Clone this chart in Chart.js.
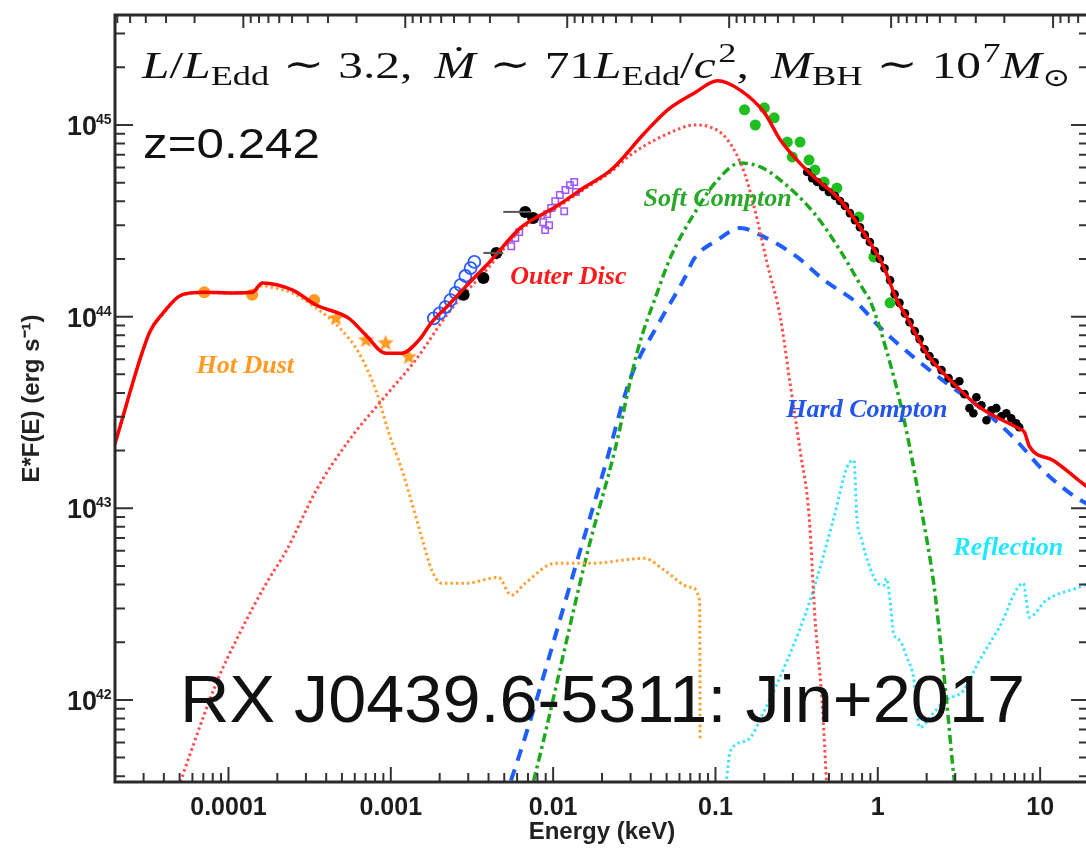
<!DOCTYPE html>
<html>
<head>
<meta charset="utf-8">
<script src="https://cdn.jsdelivr.net/npm/chart.js@4.4.1/dist/chart.umd.min.js"></script>
<style>
  html, body { margin: 0; padding: 0; background: #fff; overflow: hidden; }
  #wrap { position: absolute; left: 0; top: 0; width: 1100px; height: 848px; }
</style>
</head>
<body>
<div id="wrap"><canvas id="sed" width="1100" height="848"></canvas></div>
<script>
// ---------- axes ----------
const energyRange = [2e-5, 20];          // keV (bottom axis)
const lumRange = [3.73e41, 3.75e45];      // erg/s
const hcKeVAngstrom = 12.398;             // top axis: wavelength in Angstrom
const xMajorLabels = ['0.0001', '0.001', '0.01', '0.1', '1', '10'];
const yMajorExponents = [42, 43, 44, 45];

// ---------- model components ----------
const totalE = [2.0e-5, 3.27e-5, 3.94e-5, 5.15e-5, 7.1e-5, 1.06e-4, 1.40e-4, 1.62e-4, 2.47e-4, 3.47e-4,
  5.52e-4, 7.03e-4, 9.3e-4, 1.17e-3, 1.49e-3, 1.79e-3, 2.27e-3, 2.88e-3, 3.99e-3, 6.37e-3,
  1.03e-2, 1.57e-2, 2.27e-2, 3.66e-2, 5.08e-2, 7.43e-2, 0.103, 0.142, 0.20, 0.251,
  0.318, 0.405, 0.585, 0.82, 1.09, 1.31, 1.51, 2.0, 2.92, 4.23, 7.43, 8.0, 8.6, 12.0, 17.3, 20];
const totalL = [2.18e43, 8.3e43, 1.04e44, 1.30e44, 1.34e44, 1.33e44, 1.34e44, 1.50e44, 1.38e44, 1.15e44,
  9.8e43, 8.0e43, 6.45e43, 6.45e43, 7.54e43, 9.36e43, 1.15e44, 1.43e44, 1.90e44, 2.93e44,
  3.73e44, 4.75e44, 5.82e44, 9.08e44, 1.20e45, 1.47e45, 1.70e45, 1.52e45, 1.16e45, 8.35e44,
  6.56e44, 5.35e44, 4.06e44, 2.73e44, 1.81e44, 1.22e44, 9.9e43, 6.45e43, 4.5e43, 3.37e43, 2.6e43, 2.5e43, 2.1e43, 1.78e43, 1.40e43, 1.27e43];

const dustE = [2.0e-5, 3.27e-5, 3.94e-5, 5.15e-5, 7.1e-5, 1.06e-4, 1.40e-4, 1.62e-4, 1.86e-4, 2.47e-4,
  3.47e-4, 4.8e-4, 6.37e-4, 8.09e-4, 9.73e-4, 1.2e-3, 1.55e-3, 1.79e-3, 2.06e-3, 2.88e-3,
  4.6e-3, 5.52e-3, 6.73e-3, 1.03e-2, 1.71e-2, 3.66e-2, 4.86e-2, 7.03e-2, 7.98e-2, 8.05e-2];
const dustL = [2.15e43, 8.2e43, 1.03e44, 1.29e44, 1.33e44, 1.32e44, 1.33e44, 1.45e44, 1.42e44, 1.33e44,
  1.11e44, 8.8e43, 6.45e43, 4.13e43, 2.47e43, 1.49e43, 7.06e42, 4.74e42, 4.06e42, 4.06e42,
  4.36e42, 3.52e42, 4.06e42, 5.16e42, 5.16e42, 5.48e42, 4.74e42, 3.87e42, 3.31e42, 6.15e41];

const discE = [4.67e-5, 8.4e-5, 1.17e-4, 1.71e-4, 2.27e-4, 3.47e-4, 5.52e-4, 8.8e-4, 1.42e-3, 2.27e-3,
  3.99e-3, 6.37e-3, 1.03e-2, 1.57e-2, 2.27e-2, 3.01e-2, 3.66e-2, 5.08e-2, 7.43e-2, 0.093,
  0.119, 0.151, 0.181, 0.208, 0.251, 0.288, 0.332, 0.378, 0.41, 0.453, 0.486];
const discL = [3.1e41, 1.22e42, 2.22e42, 4.06e42, 6.0e42, 1.24e43, 2.26e43, 3.66e43, 5.93e43, 1.05e44,
  1.8e44, 2.85e44, 3.65e44, 4.65e44, 5.7e44, 7.0e44, 7.8e44, 9.0e44, 1.0e45, 9.76e44,
  8.35e44, 5.61e44, 3.2e44, 1.9e44, 9.9e43, 4.5e43, 2.01e43, 8.98e42, 2.7e42, 1.0e42, 3.4e41];

const softE = [7.03e-3, 7.53e-3, 1.64e-2, 2.4e-2, 3.32e-2, 4.41e-2, 5.3e-2, 7.43e-2, 0.103, 0.142,
  0.189, 0.251, 0.405, 0.585, 0.82, 0.893, 1.13, 1.44, 1.81, 2.21, 2.40, 2.65, 2.97, 3.05];
const softL = [3.0e41, 3.7e41, 6.04e42, 2.01e43, 6.69e43, 1.36e44, 2.05e44, 3.47e44, 5.16e44, 6.34e44,
  6.04e44, 5.16e44, 3.47e44, 2.22e44, 1.37e44, 1.22e44, 6.69e43, 2.99e43, 1.10e43, 4.06e42, 2.22e42, 1.0e42, 3.7e41, 3.2e41];

const hardE = [4.93e-3, 5.44e-3, 1.47e-2, 2.08e-2, 3.01e-2, 4.41e-2, 6.46e-2, 7.43e-2, 0.103, 0.142,
  0.2, 0.318, 0.467, 0.743, 1.03, 1.66, 2.65, 4.23, 6.82, 10.9, 16.6, 20];
const hardL = [3.0e41, 3.7e41, 6.04e42, 1.64e43, 4.83e43, 9.04e43, 1.59e44, 2.02e44, 2.51e44, 2.90e44,
  2.60e44, 2.05e44, 1.55e44, 1.18e44, 8.8e43, 6.15e43, 4.5e43, 3.37e43, 2.35e43, 1.52e43, 1.14e43, 1.04e43];

const reflE = [0.115, 0.124, 0.157, 0.2, 0.277, 0.383, 0.537, 0.646, 0.713, 0.743,
  0.798, 0.893, 1.0, 1.09, 1.13, 1.19, 1.25, 1.36, 1.51, 1.66,
  1.81, 2.21, 2.65, 3.37, 4.23, 5.6, 7.87, 8.57, 10.9, 17.3, 20];
const reflL = [3.4e41, 5.45e41, 6.15e41, 8.8e41, 1.61e42, 3.31e42, 8.98e42, 1.64e43, 1.78e43, 8.98e42,
  6.81e42, 4.92e42, 4.06e42, 3.97e42, 4.3e42, 3.31e42, 2.22e42, 2.05e42, 1.67e42, 1.31e42,
  7.18e41, 8.6e41, 1.0e42, 1.12e42, 1.61e42, 2.39e42, 4.06e42, 2.7e42, 3.31e42, 3.87e42, 4.06e42];

// ---------- observed data ----------
const irCircE = [7.1e-5, 1.40e-4, 3.37e-4];
const irCircL = [1.34e44, 1.30e44, 1.22e44];
const irStarE = [4.6e-4, 7.03e-4, 9.3e-4, 1.29e-3];
const irStarL = [9.8e43, 7.54e43, 7.27e43, 6.15e43];

const uvE = [1.84e-3, 2.0e-3, 2.17e-3, 2.33e-3, 2.51e-3, 2.69e-3, 2.88e-3, 3.1e-3, 3.27e-3];
const uvL = [9.8e43, 1.04e44, 1.12e44, 1.22e44, 1.33e44, 1.46e44, 1.63e44, 1.79e44, 1.93e44];

const optE = [2.81e-3, 3.72e-3, 4.47e-3, 6.73e-3, 7.53e-3];
const optL = [1.30e44, 1.59e44, 2.15e44, 3.52e44, 3.27e44];
const optELo = [null, null, 3.72e-3, 4.93e-3, null];
const optEHi = [null, null, 4.93e-3, 7.33e-3, null];

const omE = [5.52e-3, 5.85e-3, 6.18e-3, 8.69e-3, 8.93e-3, 9.19e-3, 9.44e-3, 9.73e-3, 1.03e-2, 1.10e-2,
  1.17e-2, 1.19e-2, 1.27e-2, 1.35e-2, 1.38e-2];
const omL = [2.33e44, 2.57e44, 2.76e44, 3.11e44, 2.83e44, 3.43e44, 3.0e44, 3.69e44, 4.01e44, 4.31e44,
  3.55e44, 4.58e44, 4.86e44, 5.04e44, 4.47e44];

const softXE = [0.151, 0.176, 0.200, 0.230, 0.277, 0.297, 0.332, 0.377, 0.410, 0.467, 0.560, 0.764, 0.945, 1.19];
const softXL = [1.20e45, 1.0e45, 1.23e45, 1.09e45, 8.15e44, 6.81e44, 8.15e44, 6.56e44, 5.82e44, 5.04e44, 4.69e44, 3.31e44, 2.05e44, 1.18e44];

const xrayE = [0.367, 0.394, 0.423, 0.460, 0.500, 0.545, 0.585, 0.628, 0.673, 0.723,
  0.776, 0.832, 0.893, 0.958, 1.03, 1.10, 1.19, 1.27, 1.36, 1.47,
  1.57, 1.69, 1.81, 1.94, 2.08, 2.24, 2.47, 2.73, 2.97, 3.18,
  3.42, 3.67, 3.88, 4.05, 4.35, 4.67, 5.0, 5.37, 5.77, 6.19,
  6.64, 7.12, 7.43];
const xrayL = [5.69e44, 5.28e44, 5.04e44, 4.75e44, 4.47e44, 4.26e44, 4.01e44, 3.78e44, 3.47e44, 3.19e44,
  2.93e44, 2.67e44, 2.45e44, 2.20e44, 2.0e44, 1.79e44, 1.55e44, 1.31e44, 1.18e44, 1.04e44,
  9.36e43, 8.4e43, 7.63e43, 6.76e43, 6.22e43, 5.78e43, 5.26e43, 4.78e43, 4.45e43, 4.6e43,
  3.94e43, 3.33e43, 3.13e43, 3.8e43, 3.45e43, 2.88e43, 3.25e43, 3.33e43, 3.02e43, 3.13e43,
  2.95e43, 2.78e43, 2.65e43];

// ---------- component labels ----------
const compLabels = ['Hot Dust', 'Outer Disc', 'Soft Compton', 'Hard Compton', 'Reflection'];
const compLabelE = [1.27e-4, 1.24e-2, 0.103, 0.857, 6.36];
const compLabelL = [5.5e43, 1.61e44, 4.11e44, 3.25e43, 6.18e42];
const compLabelColors = ['#ff9a22', '#ff1a1a', '#2aa82a', '#2255ee', '#22e8ff'];

// ---------- helpers ----------
const xy = (E, L) => E.map((e, i) => ({ x: e, y: L[i] }));

function lineDS(label, E, L, color, width, dash, order) {
  return {
    label, data: xy(E, L), showLine: true, borderColor: color, borderWidth: width,
    borderDash: dash, pointRadius: 0, pointHoverRadius: 0, fill: false,
    cubicInterpolationMode: 'monotone', borderCapStyle: 'butt', borderJoinStyle: 'round', order
  };
}
function pointDS(label, E, L, opts, order) {
  return Object.assign({ label, data: xy(E, L), showLine: false, order }, opts);
}
function starSprite(size, color) {
  const c = document.createElement('canvas');
  c.width = c.height = size;
  const g = c.getContext('2d');
  const cx = size / 2, cy = size / 2, ro = size / 2, ri = size / 4.6;
  g.beginPath();
  for (let i = 0; i < 10; i++) {
    const r = i % 2 ? ri : ro;
    const a = -Math.PI / 2 + i * Math.PI / 5;
    g.lineTo(cx + r * Math.cos(a), cy + r * Math.sin(a));
  }
  g.closePath();
  g.fillStyle = color;
  g.fill();
  return c;
}
function logTicks(min, max) {
  const out = [];
  for (let e = Math.floor(Math.log10(min)); e <= Math.ceil(Math.log10(max)); e++) {
    for (let k = 1; k <= 9; k++) {
      const v = k * Math.pow(10, e);
      if (v >= min * 0.999 && v <= max * 1.001) out.push({ v, major: k === 1 });
    }
  }
  return out;
}
// draw a string stretched horizontally to a given width
function fitText(ctx, s, left, base, width) {
  const w = ctx.measureText(s).width;
  ctx.save();
  ctx.translate(left, base);
  ctx.scale(width / w, 1);
  ctx.fillText(s, 0, 0);
  ctx.restore();
}
// TeX-like line: [text, style, gapBefore(em)]; style: it | rm | sub | sup | sym
function drawMathLine(ctx, parts, left, base, size, width) {
  const fonts = {
    it: `italic ${size}px "Liberation Serif"`,
    rm: `${size}px "Liberation Serif"`,
    sub: `${Math.round(size * 0.74)}px "Liberation Serif"`,
    sup: `${Math.round(size * 0.74)}px "Liberation Serif"`,
    sym: `${size}px "DejaVu Serif"`,
    odot: `${Math.round(size * 0.66)}px "DejaVu Sans"`
  };
  const shift = { it: 0, rm: 0, sym: -1, sub: size * 0.18, odot: size * 0.2, sup: -size * 0.42 };
  let total = 0;
  const layout = parts.map(([s, st, gap]) => {
    ctx.font = fonts[st];
    total += (gap || 0) * size;
    const item = { s, st, x: total };
    total += ctx.measureText(s).width;
    return item;
  });
  const k = width / total;
  ctx.save();
  ctx.translate(left, base);
  ctx.scale(k, 1);
  layout.forEach(it => { ctx.font = fonts[it.st]; ctx.fillText(it.s, it.x, shift[it.st]); });
  ctx.restore();
}

// ---------- decorations: frame, inward ticks, labels, annotations ----------
const sedDecor = {
  id: 'sedDecor',
  afterDatasetsDraw(chart) {
    const { ctx, scales } = chart;
    const x = scales.x, y = scales.y;
    ctx.save();
    ctx.strokeStyle = '#555';
    ctx.lineWidth = 2;
    optE.forEach((e, i) => {
      if (optELo[i] == null) return;
      const py = y.getPixelForValue(optL[i]);
      ctx.beginPath();
      ctx.moveTo(x.getPixelForValue(optELo[i]), py);
      ctx.lineTo(x.getPixelForValue(optEHi[i]), py);
      ctx.stroke();
    });
    ctx.restore();
  },
  afterDraw(chart) {
    const { ctx, chartArea: a, scales } = chart;
    const x = scales.x, y = scales.y, x2 = scales.x2;
    ctx.save();

    // inward tick marks
    ctx.strokeStyle = '#333';
    ctx.lineWidth = 2;
    ctx.beginPath();
    logTicks(energyRange[0], energyRange[1]).forEach(t => {
      const px = x.getPixelForValue(t.v);
      ctx.moveTo(px, a.bottom); ctx.lineTo(px, a.bottom - (t.major ? 15 : 9));
    });
    logTicks(x2.min, x2.max).forEach(t => {
      const px = x2.getPixelForValue(t.v);
      ctx.moveTo(px, a.top); ctx.lineTo(px, a.top + (t.major ? 13 : 8));
    });
    logTicks(lumRange[0], lumRange[1]).forEach(t => {
      const py = y.getPixelForValue(t.v);
      ctx.moveTo(a.left, py); ctx.lineTo(a.left + (t.major ? 18 : 10), py);
      ctx.moveTo(a.right, py); ctx.lineTo(a.right - (t.major ? 18 : 10), py);
    });
    ctx.stroke();

    // frame
    ctx.lineWidth = 3;
    ctx.strokeStyle = '#2a2a2a';
    ctx.strokeRect(a.left, a.top, a.right - a.left, a.bottom - a.top);

    // y tick labels 10^n
    ctx.fillStyle = '#1c1c1c';
    ctx.textBaseline = 'alphabetic';
    yMajorExponents.forEach(n => {
      const py = y.getPixelForValue(Math.pow(10, n));
      ctx.font = 'bold 27px "Liberation Sans"';
      ctx.textAlign = 'right';
      ctx.fillText('10', 97, py + 10);
      ctx.font = 'bold 14px "Liberation Sans"';
      ctx.textAlign = 'left';
      ctx.fillText(String(n), 96, py - 1);
    });

    // component labels
    ctx.textAlign = 'center';
    ctx.textBaseline = 'middle';
    ctx.font = 'italic bold 26px "Liberation Serif"';
    compLabels.forEach((s, i) => {
      ctx.fillStyle = compLabelColors[i];
      ctx.fillText(s, x.getPixelForValue(compLabelE[i]), y.getPixelForValue(compLabelL[i]));
    });

    // annotation texts
    ctx.fillStyle = '#111';
    ctx.textAlign = 'left';
    ctx.textBaseline = 'alphabetic';
    ctx.font = '43px "Liberation Sans"';
    fitText(ctx, 'z=0.242', 143, 158, 177);
    ctx.font = '66px "Liberation Sans"';
    fitText(ctx, 'RX J0439.6-5311: Jin+2017', 180, 722, 845);

    drawMathLine(ctx, [
      ['L', 'it'], ['/', 'rm'], ['L', 'it'], ['Edd', 'sub'],
      ['\u223C', 'sym', 0.28], ['3.2,', 'rm', 0.28],
      ['\u1E40', 'it', 0.45], ['\u223C', 'sym', 0.28], ['71', 'rm', 0.28],
      ['L', 'it'], ['Edd', 'sub'], ['/', 'rm'], ['c', 'it'], ['2', 'sup', 0.05], [',', 'rm'],
      ['M', 'it', 0.45], ['BH', 'sub'], ['\u223C', 'sym', 0.28], ['10', 'rm', 0.28], ['7', 'sup', 0.03],
      ['M', 'it'], ['\u2299', 'odot', 0.02]
    ], 142, 78, 38, 928);
    ctx.restore();
  }
};

// ---------- chart ----------
Chart.defaults.font.family = '"Liberation Sans", Arial, sans-serif';
const dustStar = starSprite(17, '#ff9a22');

new Chart(document.getElementById('sed'), {
  type: 'scatter',
  data: {
    datasets: [
      lineDS('Total', totalE, totalL, '#ff0000', 3.5, [], 0),
      pointDS('X-ray', xrayE, xrayL, { pointRadius: 4.3, pointBackgroundColor: '#000', pointBorderWidth: 0 }, 1),
      pointDS('Soft X-ray', softXE, softXL, { pointRadius: 5.5, pointBackgroundColor: '#1fbf1f', pointBorderWidth: 0 }, 2),
      pointDS('Optical', optE, optL, { pointRadius: 6, pointBackgroundColor: '#000', pointBorderWidth: 0 }, 3),
      pointDS('OM', omE, omL, { pointStyle: 'rect', pointRadius: 4.5, pointBackgroundColor: 'rgba(0,0,0,0)', pointBorderColor: '#9b55ff', pointBorderWidth: 1.5 }, 3),
      pointDS('UV', uvE, uvL, { pointRadius: 6, pointBackgroundColor: 'rgba(0,0,0,0)', pointBorderColor: '#2a5cff', pointBorderWidth: 1.8 }, 3),
      pointDS('IR', irCircE, irCircL, { pointRadius: 6, pointBackgroundColor: '#ff9a22', pointBorderWidth: 0 }, 3),
      pointDS('IR2', irStarE, irStarL, { pointStyle: dustStar }, 3),
      lineDS('Outer Disc', discE, discL, '#ff4d4d', 3, [2.5, 3], 5),
      lineDS('Hot Dust', dustE, dustL, '#ffa033', 3, [2.5, 3], 6),
      lineDS('Soft Compton', softE, softL, '#1ea81e', 3.5, [9, 4, 3, 4], 7),
      lineDS('Hard Compton', hardE, hardL, '#1f5fff', 4, [12, 9], 8),
      lineDS('Reflection', reflE, reflL, '#3fe3ff', 3, [2.5, 3], 9)
    ]
  },
  options: {
    responsive: false,
    animation: false,
    layout: { padding: 0 },
    plugins: { legend: { display: false }, tooltip: { enabled: false } },
    scales: {
      x: {
        type: 'logarithmic', position: 'bottom', min: energyRange[0], max: energyRange[1],
        grid: { display: false, drawTicks: false }, border: { display: false },
        ticks: {
          autoSkip: false, maxRotation: 0, minRotation: 0, padding: 11, color: '#1c1c1c',
          font: { size: 25, weight: 'bold' },
          callback: v => {
            const l = Math.log10(v), r = Math.round(l);
            return Math.abs(l - r) < 1e-6 && xMajorLabels[r + 4] ? xMajorLabels[r + 4] : '';
          }
        },
        title: { display: true, text: 'Energy (keV)', color: '#222', font: { size: 24, weight: 'bold' }, padding: { top: 0, bottom: 1 } },
        afterFit: s => { s.height = 66; }
      },
      x2: {
        type: 'logarithmic', position: 'top', reverse: true,
        min: hcKeVAngstrom / energyRange[1], max: hcKeVAngstrom / energyRange[0],
        grid: { display: false, drawTicks: false }, border: { display: false },
        ticks: { display: false },
        afterFit: s => { s.height = 15; }
      },
      y: {
        type: 'logarithmic', position: 'left', min: lumRange[0], max: lumRange[1],
        grid: { display: false, drawTicks: false }, border: { display: false },
        ticks: { display: false },
        title: { display: true, text: 'E*F(E) (erg s\u207B\u00B9)', color: '#222', font: { size: 24, weight: 'bold' }, padding: { top: 18, bottom: 0 } },
        afterFit: s => { s.width = 115; }
      },
      y2: {
        type: 'logarithmic', position: 'right', min: lumRange[0], max: lumRange[1],
        grid: { display: false, drawTicks: false }, border: { display: false },
        ticks: { display: false },
        afterFit: s => { s.width = 8; }
      }
    }
  },
  plugins: [sedDecor]
});
</script>
</body>
</html>
